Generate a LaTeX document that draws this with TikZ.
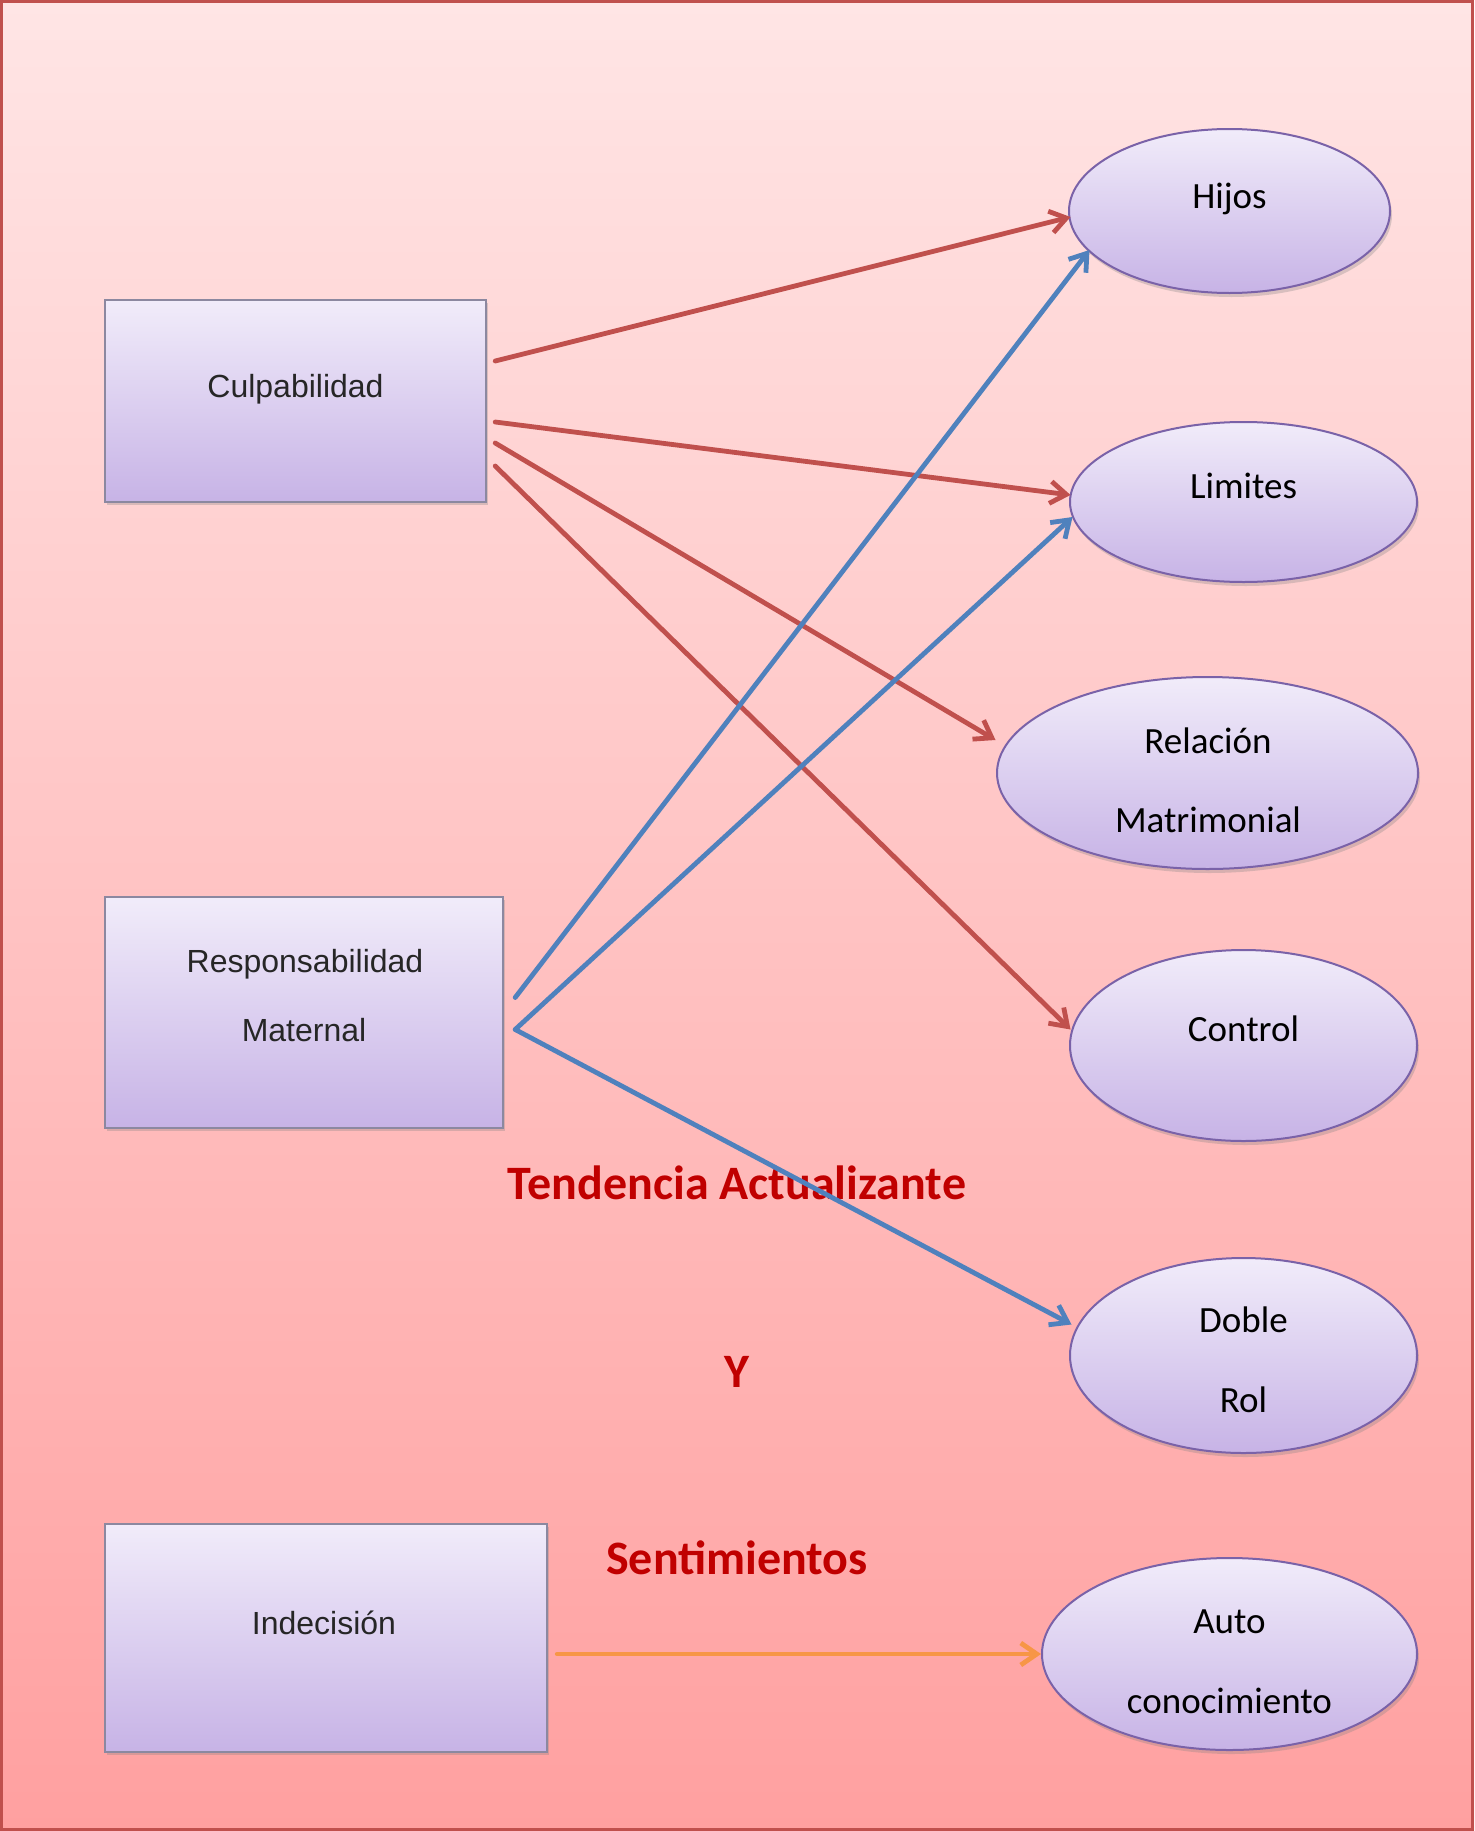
\documentclass[tikz,border=0pt]{standalone}
\usepackage{fontspec}
\newfontfamily\calib{Carlito}
\newfontfamily\arialf{Liberation Sans}
\usetikzlibrary{shapes.geometric,arrows.meta,shadows}
\definecolor{bgtop}{HTML}{FFE5E5}
\definecolor{bgbot}{HTML}{FFA0A0}
\definecolor{framecol}{HTML}{C0504D}
\definecolor{shtop}{HTML}{F1ECFA}
\definecolor{shbot}{HTML}{C7B3E6}
\definecolor{boxline}{HTML}{8C88A0}
\definecolor{ellline}{HTML}{7A62A8}
\definecolor{redar}{HTML}{C0504D}
\definecolor{bluear}{HTML}{4F81BD}
\definecolor{orangear}{HTML}{F79646}
\definecolor{titred}{HTML}{C00000}
\begin{document}
\begin{tikzpicture}[x=0.5pt,y=-0.5pt,
  boxnode/.style={rectangle, draw=boxline, line width=1.2pt, top color=shtop, bottom color=shbot, inner sep=0pt,
    drop shadow={opacity=0.3,shadow xshift=1pt,shadow yshift=-1.5pt}},
  ellnode/.style={ellipse, draw=ellline, line width=1pt, top color=shtop, bottom color=shbot, inner sep=0pt,
    drop shadow={opacity=0.3,shadow xshift=1pt,shadow yshift=-2pt}},
  boxtxt/.style={font=\arialf\fontsize{16}{19}\selectfont, text=black!85, anchor=base, inner sep=0pt},
  elltxt/.style={font=\calib\fontsize{18.5}{22}\selectfont, text=black, anchor=base, inner sep=0pt},
  redtxt/.style={font=\calib\bfseries\fontsize{24}{29}\selectfont, text=titred, anchor=base, inner sep=0pt},
  conn/.style={line width=2.4pt, -{Straight Barb[length=8pt,width=11pt]}, line cap=round},
]
\useasboundingbox (0,0) rectangle (1474,1831);
\shade[top color=bgtop,bottom color=bgbot] (0,0) rectangle (1474,1831);
\draw[framecol, line width=1.5pt] (1.5,1.5) rectangle (1472.5,1829.5);

% boxes
\node[boxnode, minimum width=190.5pt, minimum height=101pt] (culp) at (295.5,401) {};
\node[boxnode, minimum width=199pt, minimum height=115.5pt] (resp) at (304,1012.5) {};
\node[boxnode, minimum width=221pt, minimum height=114pt] (indec) at (326,1638) {};

% ellipses
\node[ellnode, minimum width=160.5pt, minimum height=82pt] (hijos) at (1229.5,211) {};
\node[ellnode, minimum width=173.5pt, minimum height=80pt] (limites) at (1243.5,502) {};
\node[ellnode, minimum width=210.5pt, minimum height=96pt] (relacion) at (1207.5,773) {};
\node[ellnode, minimum width=173.5pt, minimum height=95.5pt] (control) at (1243.5,1045.5) {};
\node[ellnode, minimum width=173.5pt, minimum height=97.5pt] (doble) at (1243.5,1355.5) {};
\node[ellnode, minimum width=187.5pt, minimum height=96pt] (auto) at (1229.5,1654) {};

% box texts
\node[boxtxt] (culpT) at (295.5,397) {Culpabilidad};
\node[boxtxt] (respT1) at (305,972) {Responsabilidad};
\node[boxtxt] (respT2) at (304,1041) {Maternal};
\node[boxtxt] (indecT) at (324,1634) {Indecisión};

% ellipse texts
\node[elltxt] (hijosT) at (1229.5,208) {Hijos};
\node[elltxt] (limitesT) at (1243.5,498) {Limites};
\node[elltxt] (relT1) at (1208,753) {Relación};
\node[elltxt] (relT2) at (1208,832) {Matrimonial};
\node[elltxt] (controlT) at (1243.5,1041) {Control};
\node[elltxt] (dobleT1) at (1243.5,1332) {Doble};
\node[elltxt] (dobleT2) at (1243.5,1412) {Rol};
\node[elltxt] (autoT1) at (1229.5,1633) {Auto};
\node[elltxt] (autoT2) at (1229.5,1713) {conocimiento};

% red labels
\node[redtxt] (tend) at (737,1199) {Tendencia Actualizante};
\node[redtxt] (yy) at (737,1387) {Y};
\node[redtxt] (sent) at (737,1574) {Sentimientos};

% connectors
\draw[conn, redar] ([shift={(8,-40)}]culp.east) -- ([shift={(-159,6)}]hijos.center);
\draw[conn, redar] ([shift={(8,21)}]culp.east) -- ([shift={(-173,-7)}]limites.center);
\draw[conn, redar] ([shift={(8,42)}]culp.east) -- ([shift={(-212,-33)}]relacion.center);
\draw[conn, redar] ([shift={(8,65)}]culp.east) -- ([shift={(-173,-16)}]control.center);
\draw[conn, bluear] ([shift={(11,-15)}]resp.east) -- ([shift={(-140,39)}]hijos.center);
\draw[conn, bluear] ([shift={(11,17)}]resp.east) -- ([shift={(-171,15)}]limites.center);
\draw[conn, bluear] ([shift={(11,17)}]resp.east) -- ([shift={(-172,-31)}]doble.center);
\draw[conn, orangear] ([shift={(9,16)}]indec.east) -- (auto.west);
\end{tikzpicture}
\end{document}
